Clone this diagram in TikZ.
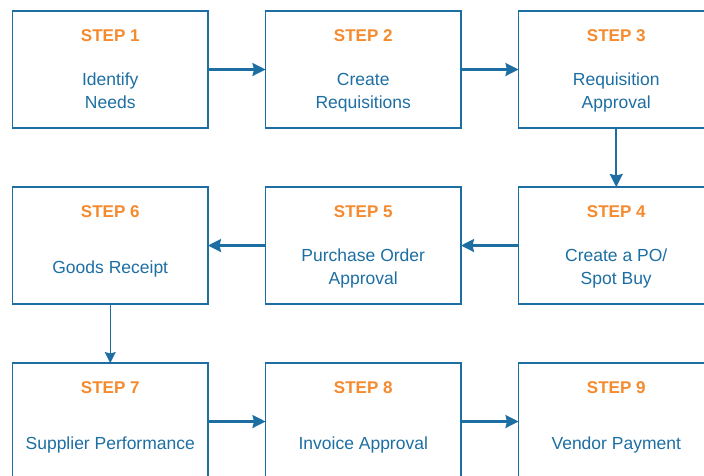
\documentclass[tikz,border=0pt]{standalone}
\usepackage{fontspec}
\setmainfont{Liberation Sans}
\usepackage{xcolor}
\usetikzlibrary{positioning}
\usetikzlibrary{arrows.meta}
\definecolor{stepblue}{HTML}{1D6FA3}
\definecolor{steporange}{HTML}{F58A2E}
\tikzstyle{stepbox} = [rectangle, minimum width=195.5pt, minimum height=117pt, outer sep=0pt, draw=stepblue, line width=1.3pt, fill=white]
\tikzstyle{steptitle} = [text=steporange, font=\fontsize{17}{22}\selectfont\bfseries]
\tikzstyle{stepdesc} = [text=stepblue, align=center, font=\fontsize{17.5}{23}\selectfont]
\tikzstyle{arrow} = [draw=stepblue, line width=2.2pt, -{Stealth[length=13pt, width=13pt, inset=1.5pt]}]
\tikzstyle{arrowthin} = [draw=stepblue, line width=1.3pt, -{Stealth[length=11pt, width=11pt, inset=1.5pt]}]

\begin{document}
\begin{tikzpicture}[node distance=57.5pt]
    \useasboundingbox (0,0) rectangle (704pt,-475pt);
    % three rows of boxes
    \node (s1) [stepbox] at (110.25pt,-69.5pt) {};
    \node (s2) [stepbox, right=of s1] {};
    \node (s3) [stepbox, right=of s2] {};
    \node (s4) [stepbox, below=59pt of s3] {};
    \node (s5) [stepbox, left=of s4] {};
    \node (s6) [stepbox, left=of s5] {};
    \node (s7) [stepbox, below=59pt of s6] {};
    \node (s8) [stepbox, right=of s7] {};
    \node (s9) [stepbox, right=of s8] {};
    % titles and descriptions
    \node (t1) [steptitle] at ([yshift=-25pt]s1.north) {STEP 1};
    \node (d1) [stepdesc] at ([yshift=-23pt]s1.center) {Identify\strut\\Needs\strut};
    \node (t2) [steptitle] at ([yshift=-25pt]s2.north) {STEP 2};
    \node (d2) [stepdesc] at ([yshift=-23pt]s2.center) {Create\strut\\Requisitions\strut};
    \node (t3) [steptitle] at ([yshift=-25pt]s3.north) {STEP 3};
    \node (d3) [stepdesc] at ([yshift=-23pt]s3.center) {Requisition\strut\\Approval\strut};
    \node (t4) [steptitle] at ([yshift=-25pt]s4.north) {STEP 4};
    \node (d4) [stepdesc] at ([yshift=-23pt]s4.center) {Create a PO/\strut\\Spot Buy\strut};
    \node (t5) [steptitle] at ([yshift=-25pt]s5.north) {STEP 5};
    \node (d5) [stepdesc] at ([yshift=-23pt]s5.center) {Purchase Order\strut\\Approval\strut};
    \node (t6) [steptitle] at ([yshift=-25pt]s6.north) {STEP 6};
    \node (d6) [stepdesc] at ([yshift=-23pt]s6.center) {Goods Receipt\strut};
    \node (t7) [steptitle] at ([yshift=-25pt]s7.north) {STEP 7};
    \node (d7) [stepdesc] at ([yshift=-23pt]s7.center) {Supplier Performance\strut};
    \node (t8) [steptitle] at ([yshift=-25pt]s8.north) {STEP 8};
    \node (d8) [stepdesc] at ([yshift=-23pt]s8.center) {Invoice Approval\strut};
    \node (t9) [steptitle] at ([yshift=-25pt]s9.north) {STEP 9};
    \node (d9) [stepdesc] at ([yshift=-23pt]s9.center) {Vendor Payment\strut};
    % connectors
    \draw[arrow] (s1) -- (s2);
    \draw[arrow] (s2) -- (s3);
    \draw[arrow] (s3) -- (s4);
    \draw[arrow] (s4) -- (s5);
    \draw[arrow] (s5) -- (s6);
    \draw[arrowthin] (s6) -- (s7);
    \draw[arrow] (s7) -- (s8);
    \draw[arrow] (s8) -- (s9);
\end{tikzpicture}
\end{document}
